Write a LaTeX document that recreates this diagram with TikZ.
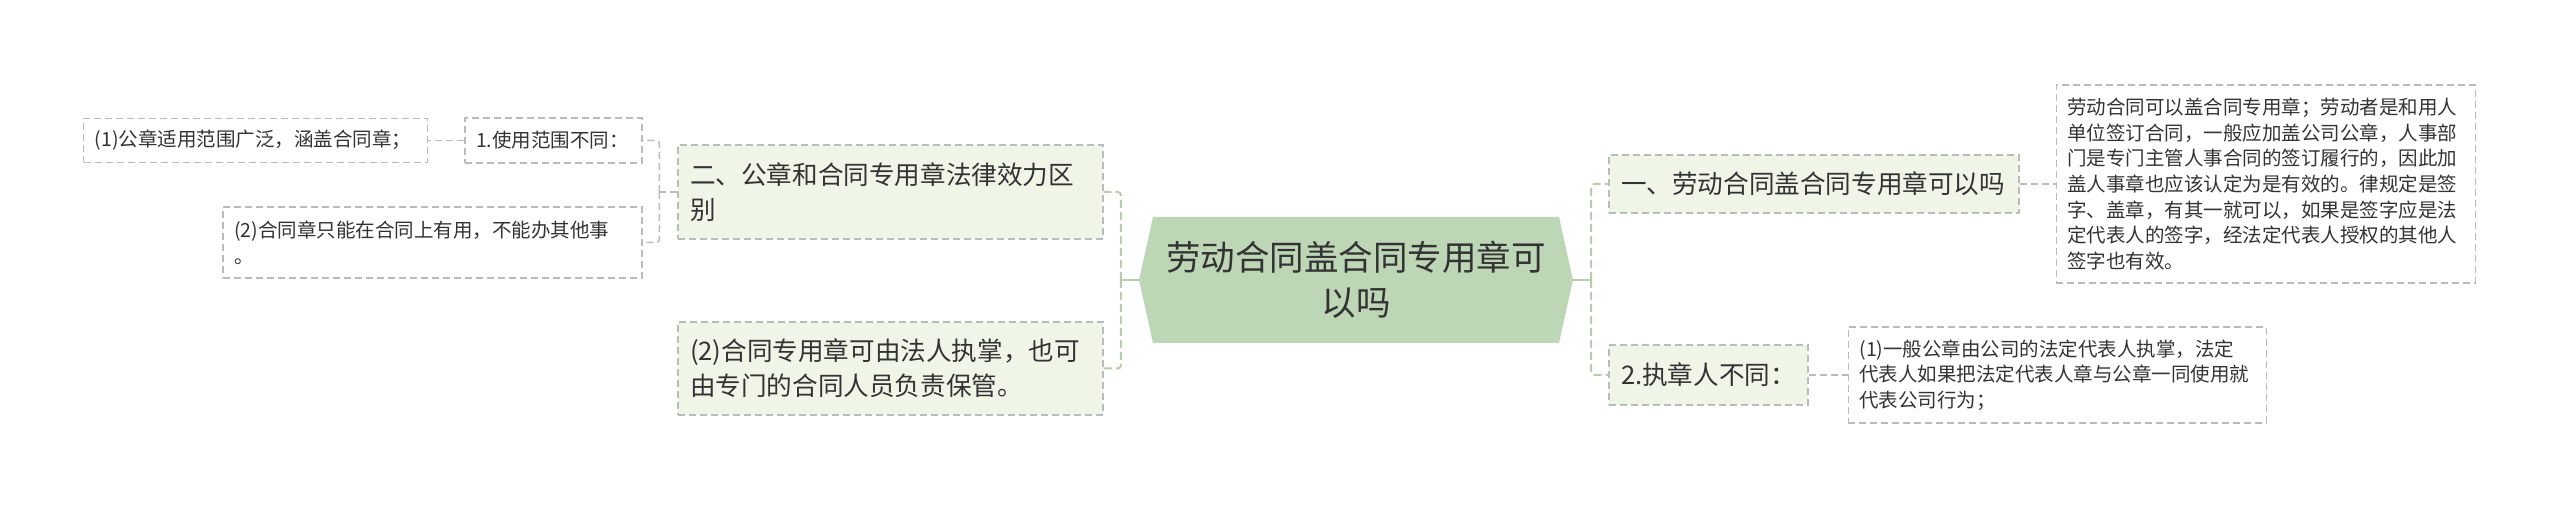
\documentclass[tikz,border=0pt]{standalone}
\usepackage{fontspec}
\setmainfont{Noto Sans CJK SC}
\usetikzlibrary{positioning,shapes.symbols}
\definecolor{rootgreen}{HTML}{BDD7B6}
\definecolor{topicgreen}{HTML}{EFF6E8}
\definecolor{edgegray}{HTML}{BBBBBB}
\definecolor{linkgreen}{HTML}{B8CCB0}
\definecolor{inkgray}{HTML}{333333}

\begin{document}
\begin{tikzpicture}[x=1pt,y=1pt,
root/.style={shape=signal,signal to=east and west,signal pointer angle=155,fill=rootgreen,inner sep=0pt,minimum width=434pt,minimum height=126pt,align=center,text=inkgray,font=\fontsize{34.5}{45}\selectfont},
topic/.style={draw=edgegray,fill=topicgreen,dash pattern=on 7pt off 4pt,line width=1.5pt,inner xsep=12pt,inner ysep=0pt,align=left,text=inkgray,font=\fontsize{25.6}{35}\selectfont},
leaf/.style={draw=edgegray,fill=white,dash pattern=on 7pt off 4pt,line width=1.3pt,inner xsep=11pt,inner ysep=0pt,align=left,text=inkgray,font=\fontsize{19.5}{25.6}\selectfont},
stem/.style={draw=linkgreen,line width=2.5pt},
link/.style={draw=linkgreen,line width=2pt,dash pattern=on 8pt off 4pt,rounded corners=3pt},
twig/.style={draw=edgegray,line width=1.5pt,dash pattern=on 7pt off 4pt,rounded corners=3pt}]
\useasboundingbox (0,0) rectangle (2560,509);
\node[root] (main) at (1356,229) {劳动合同盖合同专用章可\\以吗};
\node[topic,text width=386pt,minimum height=58pt] (seal) at (1814,325) {一、劳动合同盖合同专用章可以吗};
\node[leaf,text width=397pt,minimum height=198pt,right=36pt of seal] (sealnote) {劳动合同可以盖合同专用章；劳动者是和用人\\单位签订合同，一般应加盖公司公章，人事部\\门是专门主管人事合同的签订履行的，因此加\\盖人事章也应该认定为是有效的。律规定是签\\字、盖章，有其一就可以，如果是签字应是法\\定代表人的签字，经法定代表人授权的其他人\\签字也有效。};
\node[topic,text width=175pt,minimum height=60pt] (keeper) at (1708.5,134) {2.执章人不同：};
\node[leaf,text width=396pt,minimum height=96pt,right=39pt of keeper] (keepnote) {(1)一般公章由公司的法定代表人执掌，法定\\代表人如果把法定代表人章与公章一同使用就\\代表公司行为；};
\node[topic,text width=401pt,minimum height=94pt] (diff) at (890.5,317) {二、公章和合同专用章法律效力区\\别};
\node[topic,text width=401pt,minimum height=93pt] (custody) at (890.5,140.5) {(2)合同专用章可由法人执掌，也可\\由专门的合同人员负责保管。};
\node[leaf,text width=155pt,minimum height=45pt] (scope) at (553.5,368.5) {1.使用范围不同：};
\node[leaf,text width=322pt,minimum height=44pt,left=36pt of scope] (general) {(1)公章适用范围广泛，涵盖合同章；};
\node[leaf,text width=397pt,minimum height=71pt] (special) at (432.5,266.5) {(2)合同章只能在合同上有用，不能办其他事\\。};
\draw[stem] (main.west) -- ++(-18,0) coordinate (lhub);
\draw[stem] (main.east) -- ++(18,0) coordinate (rhub);
\draw[link] (rhub) |- (seal.west);
\draw[link] (rhub) |- (keeper.west);
\draw[link] (lhub) |- (diff.east);
\draw[link] (lhub) |- (custody.east);
\draw[twig] (diff.west) -- ++(-18,0) coordinate (dhub);
\draw[twig] (dhub) |- (scope.east);
\draw[twig] (dhub) |- (special.east);
\draw[twig] (scope.west) -- (general.east);
\draw[twig] (seal.east) -- (sealnote.west);
\draw[twig] (keeper.east) -- (keepnote.west);
\end{tikzpicture}
\end{document}
